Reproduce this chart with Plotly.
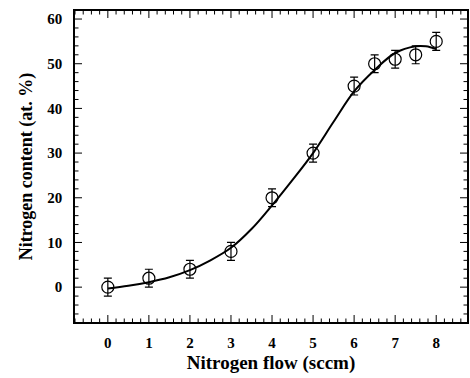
import numpy as np
import plotly.graph_objects as go

# Measured nitrogen content vs. nitrogen flow
flow = [0, 1, 2, 3, 4, 5, 6, 6.5, 7, 7.5, 8]
content = [0, 2, 4, 8, 20, 30, 45, 50, 51, 52, 55]
err = [2, 2, 2, 2, 2, 2, 2, 2, 2, 2, 2]

# Smooth fitted trend
fit_x = [0, 0.5, 1, 1.5, 2, 2.5, 3, 3.5, 4, 4.5, 5, 5.5, 6, 6.5, 7, 7.5, 7.75, 8]
fit_y = [-0.3, 0.3, 1.1, 2.2, 3.8, 6.0, 8.8, 13.0, 18.3, 24.0, 30.0, 37.0, 43.8, 48.6, 52.4, 53.9, 53.9, 53.3]

# Axis ticks
x_range = [-0.8, 8.75]
y_range = [-7.8, 61.8]
x_major = [0, 1, 2, 3, 4, 5, 6, 7, 8]
y_major = [0, 10, 20, 30, 40, 50, 60]
x_step_minor = 0.2
y_step_minor = 2

FONT = "Liberation Serif"
MAJOR_LEN, MINOR_LEN = 7, 3.5

fig = go.Figure()
fig.add_trace(go.Scatter(
    x=fit_x, y=fit_y, mode="lines",
    line=dict(color="black", width=2, shape="spline", smoothing=1.0),
    hoverinfo="skip", showlegend=False,
))
fig.add_trace(go.Scatter(
    x=flow, y=content, mode="markers",
    marker=dict(symbol="circle-open", size=12, color="black", line=dict(width=1.2, color="black")),
    error_y=dict(type="data", array=err, visible=True, color="black", thickness=1.2, width=4),
    showlegend=False,
))

# Inward ticks on all four sides of the frame (major + minor)
x_minor = [v for v in np.round(np.arange(-0.8, x_range[1], x_step_minor), 3) if abs(v - round(v)) > 1e-6]
y_minor = [v for v in range(-6, 62, y_step_minor) if v % 10 != 0]

shapes = []
tick_line = dict(color="black", width=1)
for vals, ln in ((x_major, MAJOR_LEN), (x_minor, MINOR_LEN)):
    for v in vals:
        shapes.append(dict(type="line", xref="x", yref="paper", ysizemode="pixel", yanchor=0,
                           x0=v, x1=v, y0=0, y1=ln, line=tick_line, layer="above"))
        shapes.append(dict(type="line", xref="x", yref="paper", ysizemode="pixel", yanchor=1,
                           x0=v, x1=v, y0=0, y1=-ln, line=tick_line, layer="above"))
for vals, ln in ((y_major, MAJOR_LEN), (y_minor, MINOR_LEN)):
    for v in vals:
        shapes.append(dict(type="line", xref="paper", yref="y", xsizemode="pixel", xanchor=0,
                           y0=v, y1=v, x0=0, x1=ln, line=tick_line, layer="above"))
        shapes.append(dict(type="line", xref="paper", yref="y", xsizemode="pixel", xanchor=1,
                           y0=v, y1=v, x0=0, x1=-ln, line=tick_line, layer="above"))

axis_common = dict(
    showline=True, linecolor="black", linewidth=1.5, mirror=True,
    ticks="", showgrid=False, zeroline=False,
    tickfont=dict(family=FONT, size=15, color="black", weight="bold"),
)

fig.update_xaxes(
    range=x_range, tickvals=x_major, ticktext=[str(v) for v in x_major],
    ticklabelstandoff=6,
    title=dict(text="Nitrogen flow (sccm)", font=dict(family=FONT, size=19, color="black", weight="bold"), standoff=6),
    **axis_common,
)
fig.update_yaxes(
    range=y_range, tickvals=y_major, ticktext=[str(v) for v in y_major],
    ticklabelstandoff=8,
    title=dict(text="Nitrogen content (at. %)", font=dict(family=FONT, size=18, color="black", weight="bold"), standoff=10),
    **axis_common,
)

fig.update_layout(
    width=470, height=378,
    margin=dict(l=75, r=1, t=11, b=56),
    plot_bgcolor="white", paper_bgcolor="white",
    shapes=shapes,
)

fig.write_html("out.html")
